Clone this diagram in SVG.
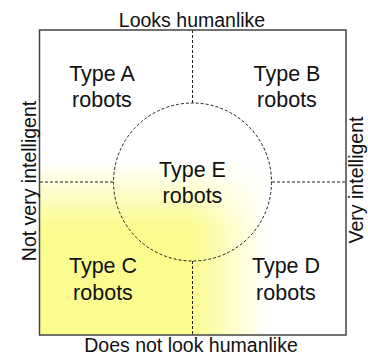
<svg xmlns="http://www.w3.org/2000/svg" width="368" height="358" viewBox="0 0 368 358">
  <style>
    .lbl { font-family: "Liberation Sans", Arial, sans-serif; fill: #111; text-anchor: middle; }
    .axis { font-size: 19.5px; }
    .type { font-size: 21.5px; }
    .div { fill: none; stroke: #222; stroke-width: 1; stroke-dasharray: 3 2; }
    .frame { fill: none; stroke: #444; stroke-width: 1.5; }
  </style>
  <defs>
    <!-- warm tint across the low-intelligence / non-humanlike corner -->
    <linearGradient id="tintH" gradientUnits="userSpaceOnUse" x1="192" y1="0" x2="268" y2="0">
      <stop offset="0" stop-color="#fbfb8e" stop-opacity="1"/>
      <stop offset="1" stop-color="#fbfb8e" stop-opacity="0"/>
    </linearGradient>
    <linearGradient id="fadeV" gradientUnits="userSpaceOnUse" x1="0" y1="162" x2="0" y2="228">
      <stop offset="0" stop-color="#fff" stop-opacity="0"/>
      <stop offset="1" stop-color="#fff" stop-opacity="1"/>
    </linearGradient>
    <mask id="tintMask" maskUnits="userSpaceOnUse" x="0" y="0" width="368" height="358">
      <rect x="40" y="150" width="306" height="185" fill="url(#fadeV)"/>
    </mask>
  </defs>

  <rect x="0" y="0" width="368" height="358" fill="#fff"/>
  <rect x="40" y="150" width="306" height="185" fill="url(#tintH)" mask="url(#tintMask)"/>

  <g id="connectors">
    <line class="div" x1="192.5" y1="30" x2="192.5" y2="103"/>
    <line class="div" x1="192.5" y1="261" x2="192.5" y2="335"/>
    <line class="div" x1="40" y1="182" x2="113" y2="182"/>
    <line class="div" x1="272" y1="182" x2="346" y2="182"/>
  </g>

  <g id="frame">
    <rect class="frame" x="39.5" y="30" width="306.5" height="305"/>
  </g>

  <g id="typeE">
    <circle class="div" cx="192.5" cy="182" r="79"/>
    <text class="lbl type" x="192.5" y="177">Type E</text>
    <text class="lbl type" x="192.5" y="203">robots</text>
  </g>

  <g id="typeA">
    <text class="lbl type" x="102" y="81">Type A</text>
    <text class="lbl type" x="102" y="107">robots</text>
  </g>
  <g id="typeB">
    <text class="lbl type" x="287" y="81">Type B</text>
    <text class="lbl type" x="287" y="107">robots</text>
  </g>
  <g id="typeC">
    <text class="lbl type" x="103" y="273">Type C</text>
    <text class="lbl type" x="103" y="300">robots</text>
  </g>
  <g id="typeD">
    <text class="lbl type" x="286" y="273">Type D</text>
    <text class="lbl type" x="286" y="300">robots</text>
  </g>

  <g id="axes">
    <text class="lbl axis" x="192" y="26.5">Looks humanlike</text>
    <text class="lbl axis" x="191" y="351.5">Does not look humanlike</text>
    <text class="lbl axis" transform="translate(35.5 181) rotate(-90)">Not very intelligent</text>
    <text class="lbl axis" transform="translate(362.5 180) rotate(-90)">Very intelligent</text>
  </g>
</svg>
